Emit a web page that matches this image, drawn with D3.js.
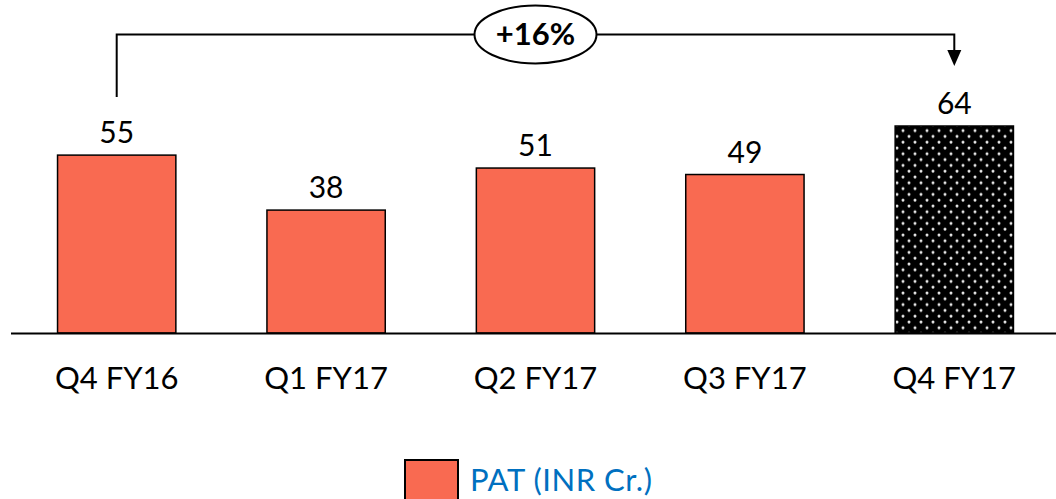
<!DOCTYPE html>
<html>
<head>
<meta charset="utf-8">
<script src="https://cdn.jsdelivr.net/npm/d3@7"></script>
<style>
  body { margin: 0; background: #fff; }
  svg { display: block; font-family: Lato, "Open Sans", sans-serif; }
</style>
</head>
<body>
<div id="chart"></div>
<script>
const categories = ["Q4 FY16", "Q1 FY17", "Q2 FY17", "Q3 FY17", "Q4 FY17"];
const patValues = [55, 38, 51, 49, 64];
const seriesName = "PAT (INR Cr.)";
const growthLabel = "+16%";

const width = 1056, height = 499;
const baseline = 333;

const svg = d3.select("#chart").append("svg")
  .attr("width", width)
  .attr("height", height);

// dotted fill for the latest quarter
const defs = svg.append("defs");
const pat = defs.append("pattern")
  .attr("id", "dots")
  .attr("patternUnits", "userSpaceOnUse")
  .attr("width", 12)
  .attr("height", 11.6);
pat.append("rect").attr("width", 12).attr("height", 11.6).attr("fill", "#000");
pat.append("circle").attr("cx", 3).attr("cy", 3).attr("r", 1.5).attr("fill", "#e6e6e6");
pat.append("circle").attr("cx", 9).attr("cy", 8.8).attr("r", 1.5).attr("fill", "#e6e6e6");

const x = d3.scaleBand()
  .domain(categories)
  .range([12, 1059])
  .paddingInner(0.435)
  .paddingOuter(0.2175);

const y = d3.scaleLinear()
  .domain([0, 64])
  .range([baseline, 126]);

// bars
svg.selectAll("rect.bar")
  .data(patValues)
  .join("rect")
  .attr("class", "bar")
  .attr("x", (d, i) => x(categories[i]))
  .attr("y", d => y(d))
  .attr("width", x.bandwidth())
  .attr("height", d => baseline - y(d))
  .attr("fill", (d, i) => i === patValues.length - 1 ? "url(#dots)" : "#f96a51")
  .attr("stroke", "#000")
  .attr("stroke-width", 1.5);

// value labels
svg.selectAll("text.val")
  .data(patValues)
  .join("text")
  .attr("class", "val")
  .attr("x", (d, i) => x(categories[i]) + x.bandwidth() / 2)
  .attr("y", d => y(d) - 12)
  .attr("text-anchor", "middle")
  .attr("font-size", 30)
  .attr("fill", "#000")
  .text(d => d);

// x axis line
svg.append("line")
  .attr("x1", 11).attr("x2", width)
  .attr("y1", baseline + 0.5).attr("y2", baseline + 0.5)
  .attr("stroke", "#000")
  .attr("stroke-width", 2);

// category labels
svg.selectAll("text.cat")
  .data(categories)
  .join("text")
  .attr("class", "cat")
  .attr("x", d => x(d) + x.bandwidth() / 2)
  .attr("y", 389)
  .attr("text-anchor", "middle")
  .attr("font-size", 31)
  .attr("fill", "#000")
  .text(d => d);

// growth annotation bracket
const x0 = x(categories[0]) + x.bandwidth() / 2;
const x1 = x(categories[categories.length - 1]) + x.bandwidth() / 2;
const lineY = 34.5;

svg.append("path")
  .attr("d", `M${x0},97 V${lineY} H${x1} V52`)
  .attr("fill", "none")
  .attr("stroke", "#000")
  .attr("stroke-width", 2);

svg.append("path")
  .attr("d", `M${x1 - 7},50 L${x1 + 7},50 L${x1},66 Z`)
  .attr("fill", "#000");

const cx = (x0 + x1) / 2;
svg.append("ellipse")
  .attr("cx", cx).attr("cy", lineY)
  .attr("rx", 61).attr("ry", 29)
  .attr("fill", "#fff")
  .attr("stroke", "#000")
  .attr("stroke-width", 2);

svg.append("text")
  .attr("x", cx).attr("y", 45)
  .attr("text-anchor", "middle")
  .attr("font-size", 31)
  .attr("font-weight", "bold")
  .attr("fill", "#000")
  .text(growthLabel);

// legend
svg.append("rect")
  .attr("x", 405).attr("y", 460)
  .attr("width", 53).attr("height", 44)
  .attr("fill", "#f96a51")
  .attr("stroke", "#000")
  .attr("stroke-width", 2);

svg.append("text")
  .attr("x", 470).attr("y", 491)
  .attr("font-size", 31)
  .attr("textLength", 182)
  .attr("fill", "#0070c0")
  .text(seriesName);
</script>
</body>
</html>
